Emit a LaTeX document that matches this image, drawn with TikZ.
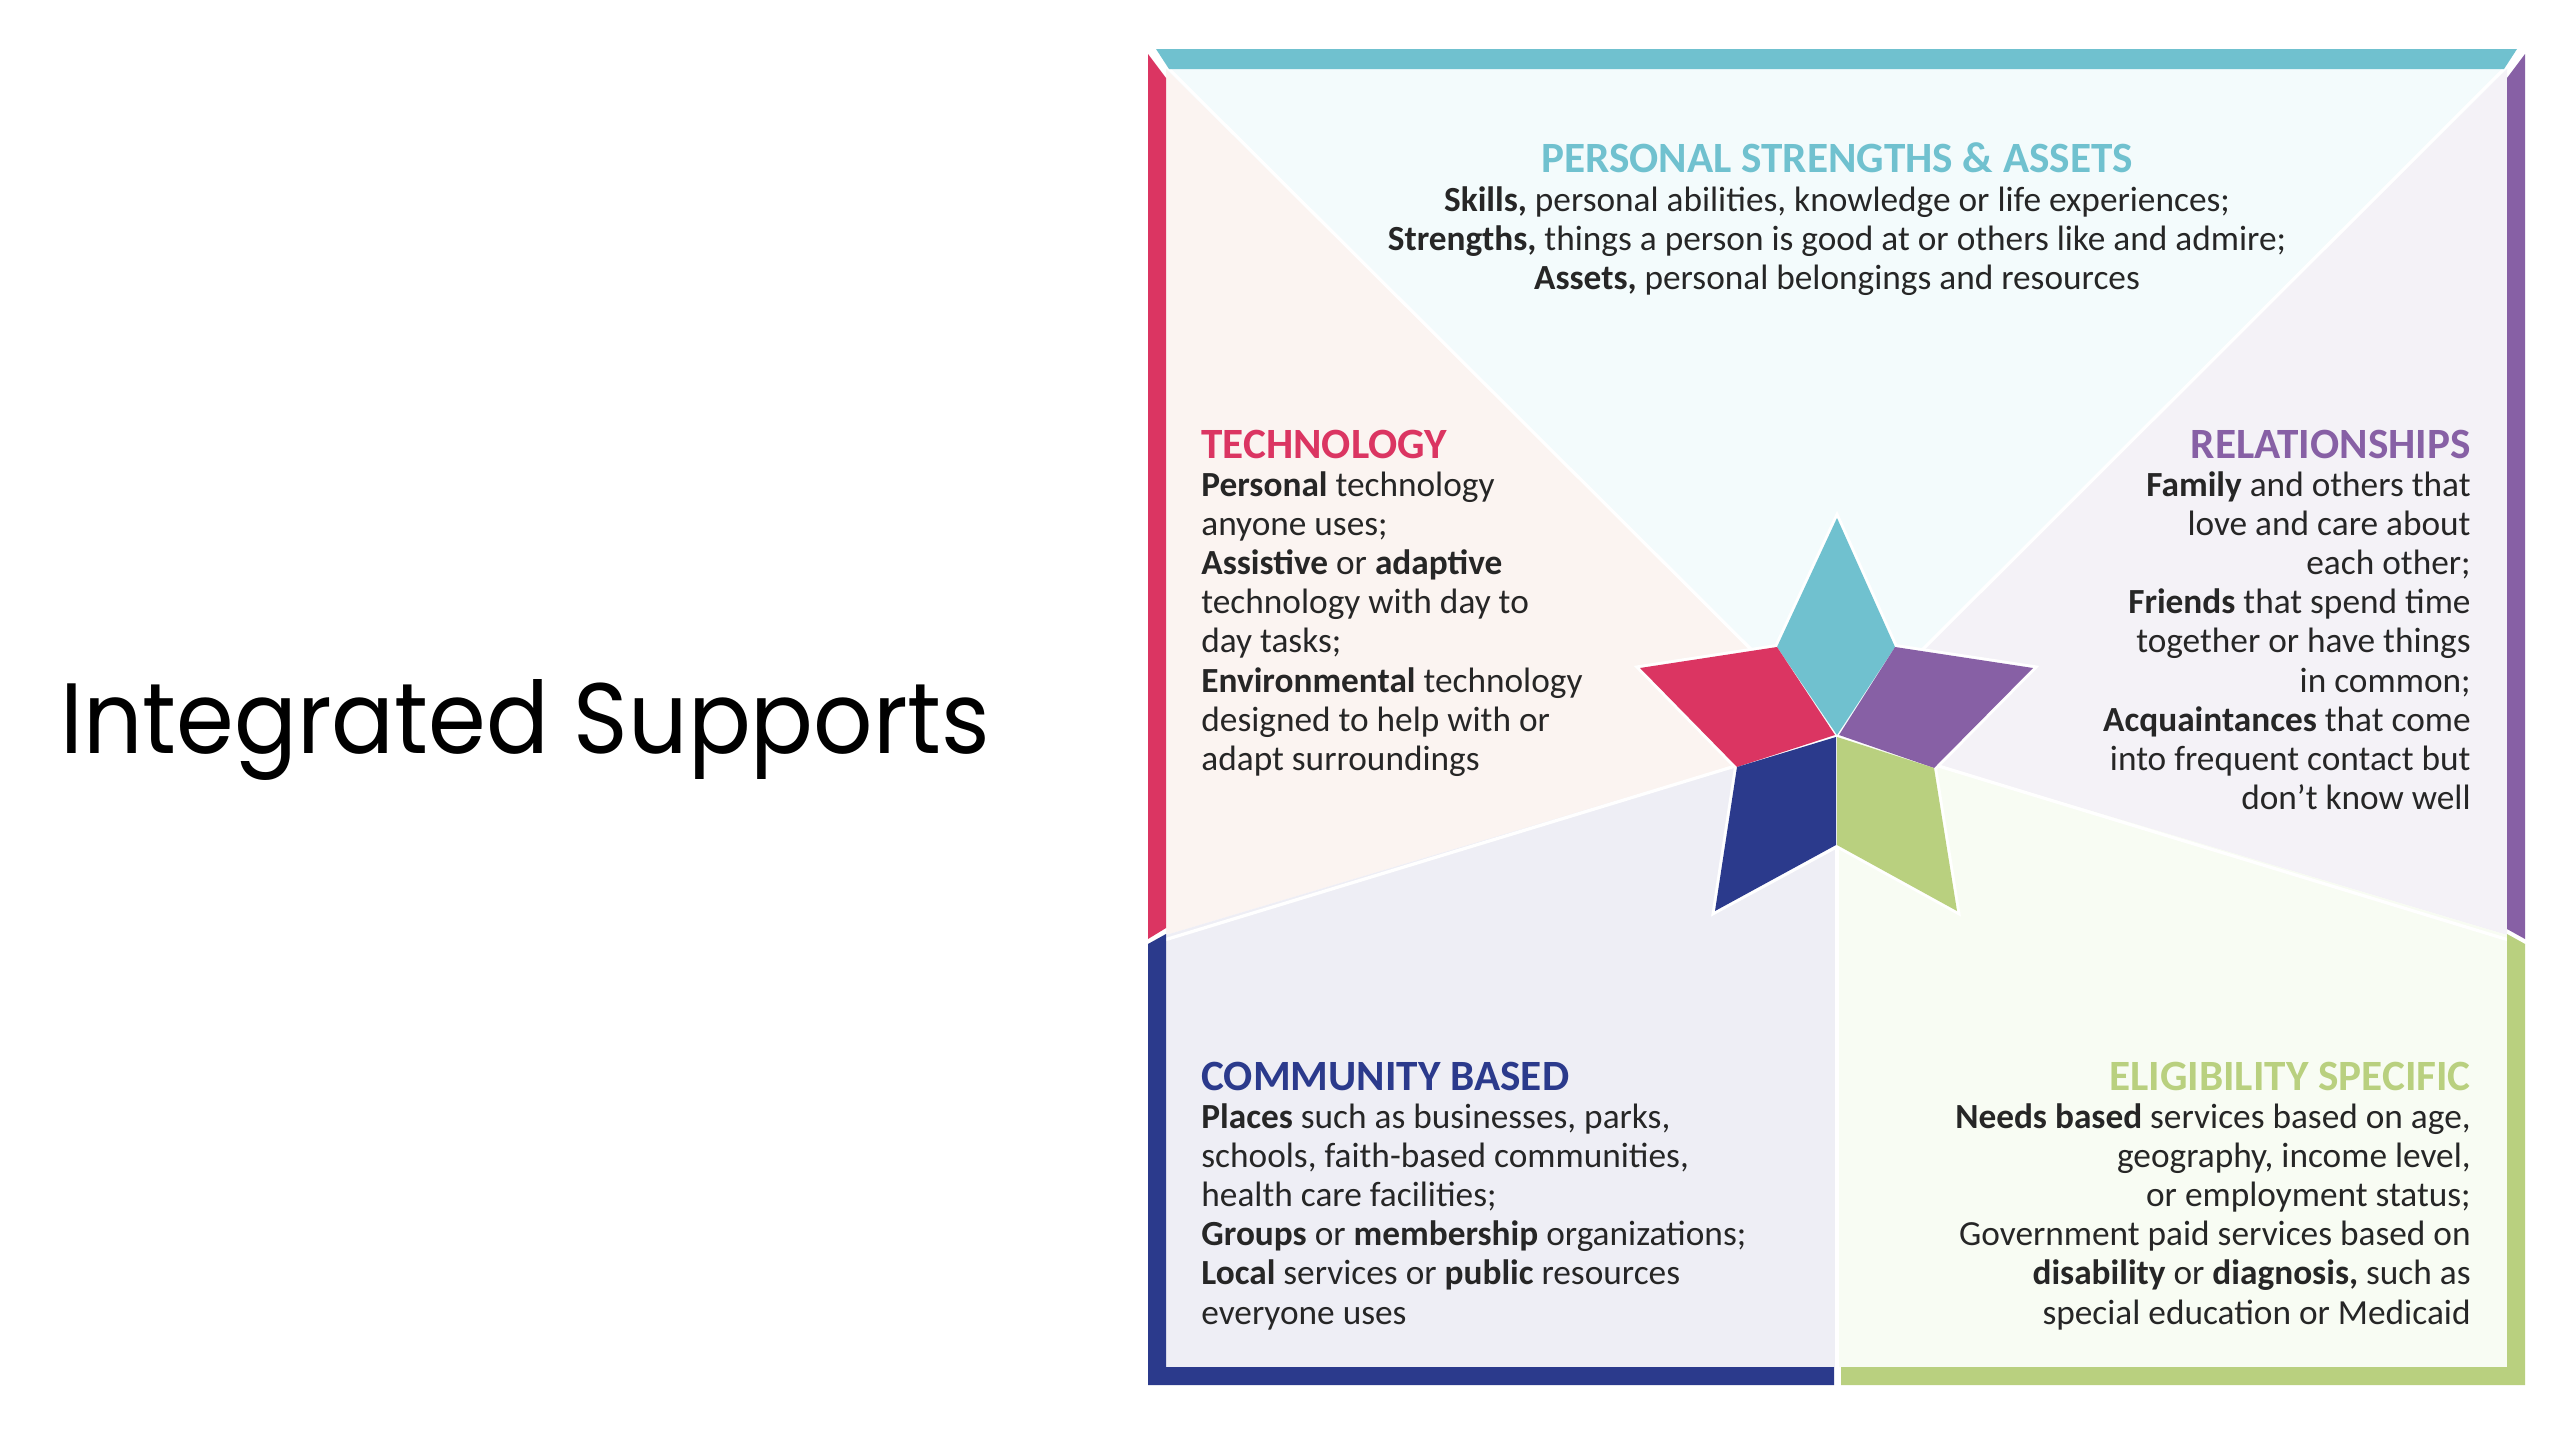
\documentclass[tikz,border=0pt]{standalone}
\usepackage{fontspec}
\setmainfont{Carlito}
\newfontfamily\titlefont[FakeStretch=0.93]{Poppins}
\definecolor{tealc}{HTML}{70C1CF}
\definecolor{magc}{HTML}{DB3562}
\definecolor{purc}{HTML}{8760A5}
\definecolor{navyc}{HTML}{2B3A8C}
\definecolor{grnc}{HTML}{B9D07F}
\tikzset{
  heading/.style={inner sep=0pt,font=\fontsize{21.6}{19.6}\selectfont\bfseries},
  body/.style={inner sep=0pt,text=black!85,font=\fontsize{17.65}{19.6}\selectfont},
}
\begin{document}
\begin{tikzpicture}[x=0.5pt,y=-0.5pt]
\useasboundingbox (0,0) rectangle (2560,1440);
\fill[white] (0,0) rectangle (2560,1440);
\fill[color={rgb,255:red,243;green,251;blue,252}] (1166,69) -- (2507,69) -- (1837,735) -- cycle;
\fill[color={rgb,255:red,251;green,244;blue,241}] (1166,69) -- (1837,735) -- (1166,935) -- cycle;
\fill[color={rgb,255:red,244;green,242;blue,247}] (2507,69) -- (1837,735) -- (2507,935) -- cycle;
\fill[color={rgb,255:red,238;green,238;blue,245}] (1166,935) -- (1837,735) -- (1837,1367) -- (1166,1367) -- cycle;
\fill[color={rgb,255:red,248;green,252;blue,243}] (2507,935) -- (1837,735) -- (1837,1367) -- (2507,1367) -- cycle;
\draw[white,line width=1.6pt] (1148,945) -- (1837,735) -- (2525,945);
\draw[white,line width=1.6pt] (1148,48) -- (1837,735) -- (2525,48);
\draw[white,line width=1.6pt] (1837,735) -- (1837,1385);
\fill[tealc] (1156,49) -- (2517,49) -- (2504,69) -- (1169,69) -- cycle;
\fill[magc] (1148,54) -- (1166,78) -- (1166,928) -- (1148,939) -- cycle;
\fill[purc] (2525,54) -- (2507,78) -- (2507,929) -- (2525,939) -- cycle;
\fill[navyc] (1148,944) -- (1166,934) -- (1166,1367) -- (1834,1367) -- (1834,1385) -- (1148,1385) -- cycle;
\fill[grnc] (2525,944) -- (2507,934) -- (2507,1367) -- (1841,1367) -- (1841,1385) -- (2525,1385) -- cycle;
\draw[white,line width=3pt,line join=miter] (1837,518) -- (1895,647) -- (2033,668) -- (1934,768) -- (1957,911) -- (1837,845) -- (1715,911) -- (1737,767) -- (1640,668) -- (1777,647) -- cycle;
\fill[tealc] (1837,518) -- (1895,647) -- (1837,735) -- (1777,647) -- cycle;
\fill[magc] (1640,668) -- (1777,647) -- (1835,735) -- (1737,767) -- cycle;
\fill[purc] (2033,668) -- (1895,647) -- (1839,735) -- (1934,768) -- cycle;
\fill[navyc] (1715,911) -- (1737,767) -- (1836,737) -- (1836,845) -- cycle;
\fill[grnc] (1957,911) -- (1934,768) -- (1837,737) -- (1837,845) -- cycle;
\node[anchor=base west,inner sep=0pt,font=\titlefont\fontsize{50}{60}\selectfont] (title) at (60,753) {Integrated Supports};
\node[heading,text=tealc,anchor=base] (pershead) at (1837,172) {PERSONAL STRENGTHS \& ASSETS};
\node[body,align=center,anchor=north] (persbody) at (1837,186) {\textbf{Skills,} personal abilities, knowledge or life experiences;\\
\textbf{Strengths,} things a person is good at or others like and admire;\\
\textbf{Assets,} personal belongings and resources};
\node[heading,text=magc,anchor=base west] (techhead) at (1201,458) {TECHNOLOGY};
\node[body,align=left,anchor=north west] (techbody) at (1201,471) {\textbf{Personal} technology\\
anyone uses;\\
\textbf{Assistive} or \textbf{adaptive}\\
technology with day to\\
day tasks;\\
\textbf{Environmental} technology\\
designed to help with or\\
adapt surroundings};
\node[heading,text=purc,anchor=base east] (relhead) at (2471,458) {RELATIONSHIPS};
\node[body,align=right,anchor=north east] (relbody) at (2471,471) {\textbf{Family} and others that\\
love and care about\\
each other;\\
\textbf{Friends} that spend time\\
together or have things\\
in common;\\
\textbf{Acquaintances} that come\\
into frequent contact but\\
don’t know well};
\node[heading,text=navyc,anchor=base west] (commhead) at (1201,1090) {COMMUNITY BASED};
\node[body,align=left,anchor=north west] (commbody) at (1201,1103) {\textbf{Places} such as businesses, parks,\\
schools, faith-based communities,\\
health care facilities;\\
\textbf{Groups} or \textbf{membership} organizations;\\
\textbf{Local} services or \textbf{public} resources\\
everyone uses};
\node[heading,text=grnc,anchor=base east] (eligead) at (2471,1090) {ELIGIBILITY SPECIFIC};
\node[body,align=right,anchor=north east] (eligbody) at (2471,1103) {\textbf{Needs based} services based on age,\\
geography, income level,\\
or employment status;\\
Government paid services based on\\
\textbf{disability} or \textbf{diagnosis,} such as\\
special education or Medicaid};
\end{tikzpicture}
\end{document}
